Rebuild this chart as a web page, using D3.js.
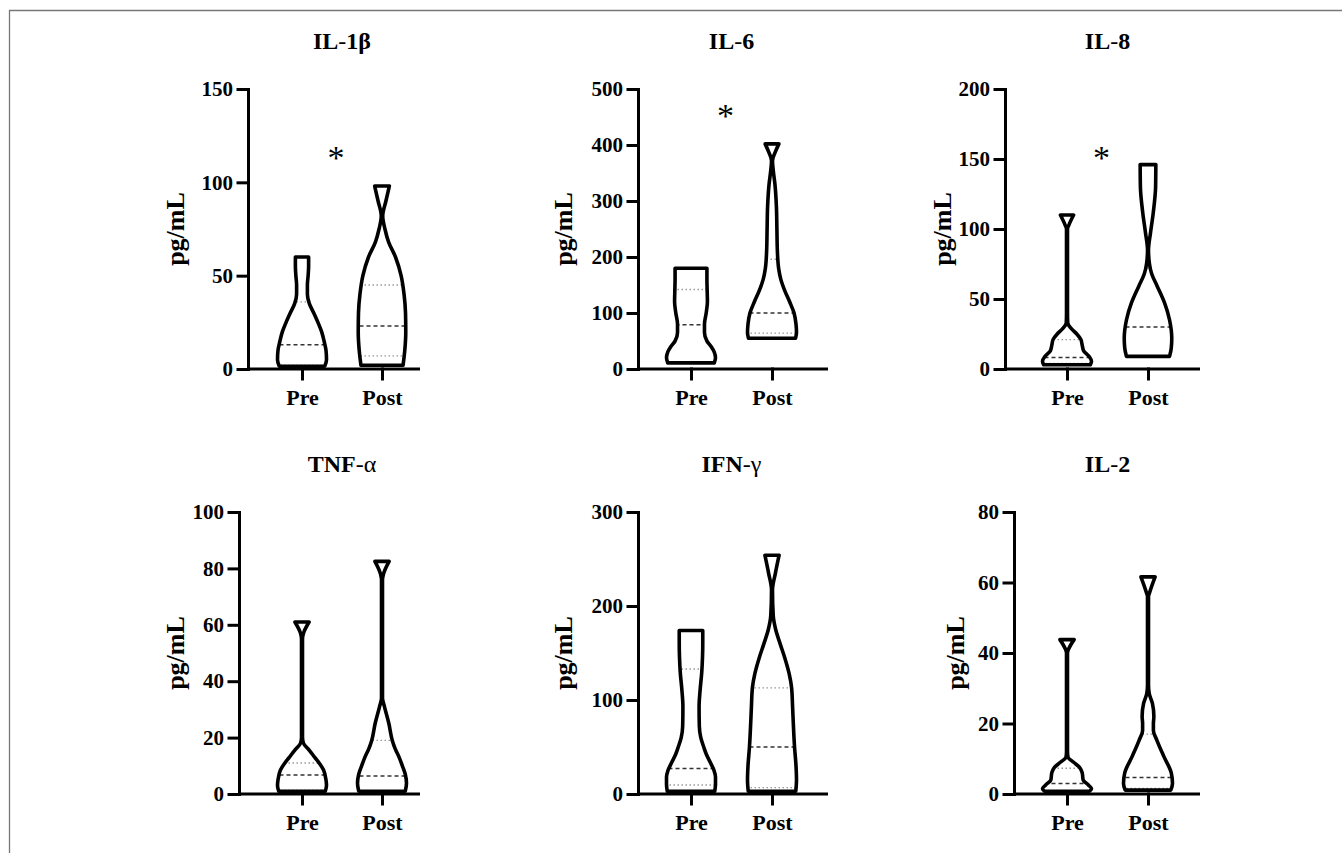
<!DOCTYPE html>
<html>
<head>
<meta charset="utf-8">
<script src="https://cdn.jsdelivr.net/npm/d3@7"></script>
<style>
  html, body { margin: 0; padding: 0; background: #fff; }
  svg { display: block; }
</style>
</head>
<body>
<script>
//-----------------Data----------------

const cytokines = ["IL-1β", "IL-6", "IL-8", "TNF-α", "IFN-γ", "IL-2"];
const groups = ["Pre", "Post"];

const yTicks = [
  [0, 50, 100, 150],
  [0, 100, 200, 300, 400, 500],
  [0, 50, 100, 150, 200],
  [0, 20, 40, 60, 80, 100],
  [0, 100, 200, 300],
  [0, 20, 40, 60, 80]
];

// violin outlines: [value, relative half width]
const il1bPre = [[1.5, 0.93], [5, 1.0], [10, 0.98], [15, 0.9], [20, 0.8], [25, 0.65], [30, 0.48], [35, 0.3], [40, 0.22], [45, 0.22], [50, 0.25], [55, 0.27], [60, 0.27]];
const il1bPost = [[2, 0.86], [10, 0.93], [20, 0.97], [30, 0.96], [40, 0.9], [50, 0.78], [60, 0.55], [68, 0.27], [75, 0.12], [82, 0.03], [90, 0.16], [98, 0.3]];
const il6Pre = [[11, 0.95], [20, 1.0], [30, 0.95], [40, 0.82], [50, 0.65], [65, 0.55], [80, 0.55], [100, 0.62], [120, 0.67], [140, 0.66], [160, 0.65], [180, 0.65]];
const il6Post = [[55, 0.96], [65, 1.0], [80, 0.98], [100, 0.9], [120, 0.72], [140, 0.52], [160, 0.36], [180, 0.27], [210, 0.22], [250, 0.2], [290, 0.18], [330, 0.12], [355, 0.05], [372, 0.02], [388, 0.14], [402, 0.28]];
const il8Pre = [[3, 0.95], [5.5, 1.0], [9, 0.9], [13, 0.68], [17, 0.62], [21, 0.57], [25, 0.4], [29, 0.17], [33, 0.03], [40, 0.02], [100, 0.02], [103, 0.08], [110, 0.27]];
const il8Post = [[9, 0.88], [15, 0.95], [22, 0.97], [35, 0.88], [47, 0.68], [59, 0.38], [68, 0.15], [75, 0.06], [85, 0.02], [97, 0.1], [111, 0.21], [130, 0.31], [146, 0.32]];
const tnfPre = [[1, 0.95], [3, 1.0], [5, 0.98], [8.5, 0.88], [11, 0.7], [13, 0.52], [15.5, 0.3], [18, 0.06], [20, 0.02], [55, 0.02], [57, 0.06], [61, 0.29]];
const tnfPost = [[1, 0.95], [3.8, 1.0], [7, 0.95], [10, 0.83], [13, 0.7], [16, 0.54], [19, 0.42], [25, 0.28], [31, 0.1], [34, 0.02], [76, 0.02], [78, 0.06], [82.5, 0.29]];
const ifnPre = [[3, 0.97], [10, 1.0], [18, 1.0], [25, 0.94], [33, 0.8], [42, 0.63], [50, 0.52], [60, 0.4], [72, 0.34], [93, 0.33], [110, 0.37], [130, 0.44], [146, 0.47], [160, 0.48], [174, 0.48]];
const ifnPost = [[3, 0.97], [15, 1.0], [30, 0.98], [50, 0.92], [75, 0.87], [93, 0.84], [113, 0.8], [128, 0.7], [145, 0.52], [160, 0.33], [175, 0.15], [190, 0.05], [217, 0.02], [235, 0.14], [254, 0.29]];
const il2Pre = [[0.8, 0.92], [1.5, 1.0], [2.5, 0.88], [4, 0.66], [6, 0.62], [7.5, 0.52], [9, 0.27], [10.5, 0.04], [12, 0.02], [40, 0.02], [41, 0.06], [43.8, 0.29]];
const il2Post = [[1.1, 0.93], [3, 1.0], [6, 0.95], [10.6, 0.65], [15.3, 0.36], [18, 0.22], [20, 0.22], [22, 0.24], [25.7, 0.18], [28.5, 0.05], [31, 0.02], [56, 0.02], [57, 0.06], [61.6, 0.29]];

// [q1, median, q3]
const preStats = [[2, 13, 36], [12, 79, 142], [4, 8.3, 21], [1.4, 6.7, 11], [9.6, 27, 133], [0.8, 3, 7.3]];
const postStats = [[7, 23, 45], [64, 100, 196], [9, 30, 72], [1, 6.4, 19], [6.7, 50, 113], [1.6, 4.7, 17]];

const preShapes = [il1bPre, il6Pre, il8Pre, tnfPre, ifnPre, il2Pre];
const postShapes = [il1bPost, il6Post, il8Post, tnfPost, ifnPost, il2Post];

// significance marks (value on the y axis), null = none
const starValue = [116, 462, 155, null, null, null];

//-----------------Layout----------------

const width = 1342;
const height = 853;
const axisX = [248, 638, 1005, 239, 638, 1014];
const yLabelX = [175, 563, 942, 175, 563, 955];
const preX = [302, 691, 1067];
const postX = [382, 772, 1148];
const xEnd = [420, 828, 1200];
const rowBase = [369, 794];
const rowTop = [89, 512];
const titleY = [49, 472];
const maxHalf = 24.5;
const serif = "'Liberation Serif', 'Times New Roman', serif";

const svg = d3.select("body").append("svg").attr("width", width).attr("height", height);

// thin frame on top and left
svg.append("path")
  .attr("d", `M9.5,${height} V10.5 H${width}`)
  .attr("fill", "none")
  .attr("stroke", "#777")
  .attr("stroke-width", 1.3);

const defs = svg.append("defs");

cytokines.forEach((name, i) => {
  const row = Math.floor(i / 3);
  const col = i % 3;
  const ticks = yTicks[i];
  const y = d3.scaleLinear().domain([0, ticks[ticks.length - 1]]).range([rowBase[row], rowTop[row]]);
  const x = d3.scalePoint().domain(groups).range([preX[col], postX[col]]);
  const w = d3.scaleLinear().domain([0, 1]).range([0, maxHalf]);

  const g = svg.append("g").attr("class", "panel");

  //-----------Title--------------
  const parts = name.split("-");
  const title = g.append("text")
    .attr("x", (preX[col] + postX[col]) / 2)
    .attr("y", titleY[row])
    .attr("text-anchor", "middle")
    .style("font-family", serif)
    .style("font-size", "24px")
    .style("font-weight", "bold");
  title.append("tspan").text(parts[0]);
  title.append("tspan").text("-").style("font-weight", "normal");
  const greek = /[αγ]/.test(parts[1]);
  title.append("tspan").text(parts[1]).style("font-weight", greek ? "normal" : "bold");

  //-----------Violins--------------
  groups.forEach((grp, k) => {
    const shape = k === 0 ? preShapes[i] : postShapes[i];
    const stats = k === 0 ? preStats[i] : postStats[i];
    const cx = x(grp);
    const area = d3.area()
      .curve(d3.curveMonotoneY)
      .y((d) => y(d[0]))
      .x0((d) => cx - w(d[1]))
      .x1((d) => cx + w(d[1]));
    const id = `clip-${i}-${k}`;
    defs.append("clipPath").attr("id", id).append("path").attr("d", area(shape));

    g.append("path").attr("d", area(shape)).attr("fill", "#fff");

    // quartiles dotted, median dashed
    stats.forEach((s, j) => {
      g.append("line")
        .attr("clip-path", `url(#${id})`)
        .attr("x1", cx - maxHalf - 5)
        .attr("x2", cx + maxHalf + 5)
        .attr("y1", y(s))
        .attr("y2", y(s))
        .attr("stroke", j === 1 ? "#333" : "#999")
        .attr("stroke-width", j === 1 ? 1.5 : 1.3)
        .attr("stroke-dasharray", j === 1 ? "4,3" : "1.5,2.5");
    });

    g.append("path")
      .attr("d", area(shape))
      .attr("fill", "none")
      .attr("stroke", "#000")
      .attr("stroke-width", 3.6)
      .attr("stroke-linejoin", "round");
  });

  //-----------Axes--------------
  const yAxisG = g.append("g")
    .attr("transform", `translate(${axisX[i]},0)`)
    .call(d3.axisLeft(y).tickValues(ticks).tickSize(10).tickPadding(5).tickSizeOuter(0));

  g.append("line")
    .attr("x1", axisX[i])
    .attr("x2", xEnd[col])
    .attr("y1", rowBase[row])
    .attr("y2", rowBase[row])
    .attr("stroke", "#000")
    .attr("stroke-width", 3);

  const xAxisG = g.append("g")
    .attr("transform", `translate(0,${rowBase[row]})`)
    .call(d3.axisBottom(x).tickSize(10).tickPadding(10));
  xAxisG.select(".domain").remove();

  [yAxisG, xAxisG].forEach((ax) => {
    ax.selectAll("path, line").attr("stroke", "#000").attr("stroke-width", 3).attr("stroke-linecap", "square");
    ax.selectAll("text")
      .attr("fill", "#000")
      .style("font-family", serif)
      .style("font-weight", "bold")
      .style("font-size", ax === yAxisG ? "21px" : "22px");
  });

  g.append("text")
    .attr("transform", `translate(${yLabelX[i]},${(rowBase[row] + rowTop[row]) / 2}) rotate(-90)`)
    .attr("text-anchor", "middle")
    .attr("dy", "0.35em")
    .style("font-family", serif)
    .style("font-size", "26px")
    .style("font-weight", "bold")
    .text("pg/mL");

  //-----------Significance--------------
  if (starValue[i] !== null) {
    g.append("text")
      .attr("x", (preX[col] + postX[col]) / 2 - 6)
      .attr("y", y(starValue[i]) + 17)
      .attr("text-anchor", "middle")
      .style("font-family", serif)
      .style("font-size", "34px")
      .text("*");
  }
});
</script>
</body>
</html>
